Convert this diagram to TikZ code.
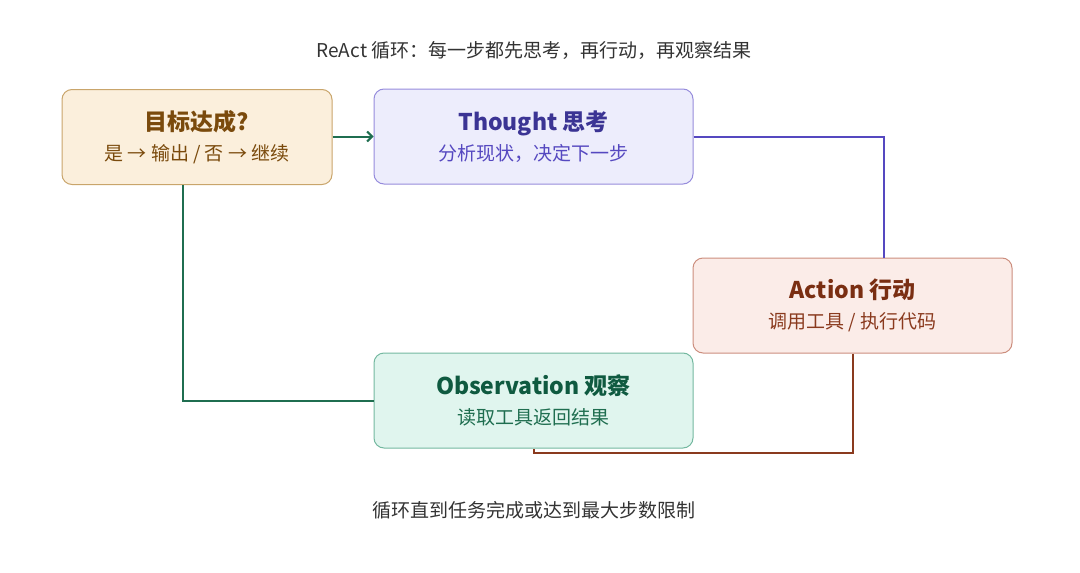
\documentclass[tikz,border=0pt]{standalone}
\usepackage{fontspec}
\setmainfont{Noto Sans CJK SC}
\usepackage{xcolor}
\usetikzlibrary{arrows.meta}
\definecolor{goalfill}{HTML}{FBEFDC}
\definecolor{goaldraw}{HTML}{C9A56B}
\definecolor{goaltext}{HTML}{7A4A0C}
\definecolor{thinkfill}{HTML}{EDEDFC}
\definecolor{thinkdraw}{HTML}{968CDC}
\definecolor{thinktext}{HTML}{3B3494}
\definecolor{thinkline}{HTML}{5548C0}
\definecolor{actfill}{HTML}{FBECE8}
\definecolor{actdraw}{HTML}{CC8E7E}
\definecolor{acttext}{HTML}{7A2E12}
\definecolor{actline}{HTML}{8A3A1E}
\definecolor{obsfill}{HTML}{E0F5EE}
\definecolor{obsdraw}{HTML}{74B8A0}
\definecolor{obstext}{HTML}{0F5A40}
\definecolor{obsline}{HTML}{1F6E50}
\definecolor{captext}{HTML}{333333}
\tikzset{
  box/.style = {draw, rounded corners = 10pt, line width = 1pt, inner sep = 0pt,
    minimum width = 319pt, minimum height = 95pt, align = center, font = \fontsize{19}{30}\selectfont},
  link/.style = {line width = 2pt}
}
\begin{document}
\begin{tikzpicture}[x = 1pt, y = -1pt]
        \useasboundingbox (0, 0) rectangle (1080, 573);
        % Nodes
        \node [box, draw = goaldraw, fill = goalfill, text = goaltext, minimum width = 270pt] (goal) at (197, 137)
          {{\fontsize{23}{30}\selectfont\bfseries 目标达成?}\\是 → 输出 / 否 → 继续};
        \node [box, draw = thinkdraw, fill = thinkfill, text = thinkline] (think) at (533.5, 136.5)
          {{\fontsize{23}{30}\selectfont\bfseries\color{thinktext} Thought 思考}\\分析现状，决定下一步};
        \node [box, draw = actdraw, fill = actfill, text = actline] (act) at (852.5, 305.5)
          {{\fontsize{23}{30}\selectfont\bfseries\color{acttext} Action 行动}\\调用工具 / 执行代码};
        \node [box, draw = obsdraw, fill = obsfill, text = obsline] (obs) at (533.5, 400.5)
          {{\fontsize{23}{30}\selectfont\bfseries\color{obstext} Observation 观察}\\读取工具返回结果};

        % Captions
        \node [text = captext, font = \fontsize{19}{24}\selectfont] (top) at (534, 50) {ReAct 循环：每一步都先思考，再行动，再观察结果};
        \node [text = captext, font = \fontsize{19}{24}\selectfont] (bottom) at (534, 510) {循环直到任务完成或达到最大步数限制};

        % Lines
        \draw [link, draw = obsline, -{Straight Barb[length = 5pt, width = 10pt]}] (goal.east |- think.west) -- (think.west);
        \draw [link, draw = thinkline] (think.east) -| ([xshift = 31.5pt]act.north);
        \draw [link, draw = actline] (act.south) -- ++(0, 99) -| (obs.south);
        \draw [link, draw = obsline] (obs.west) -| ([xshift = -14pt]goal.south);
\end{tikzpicture}
\end{document}
